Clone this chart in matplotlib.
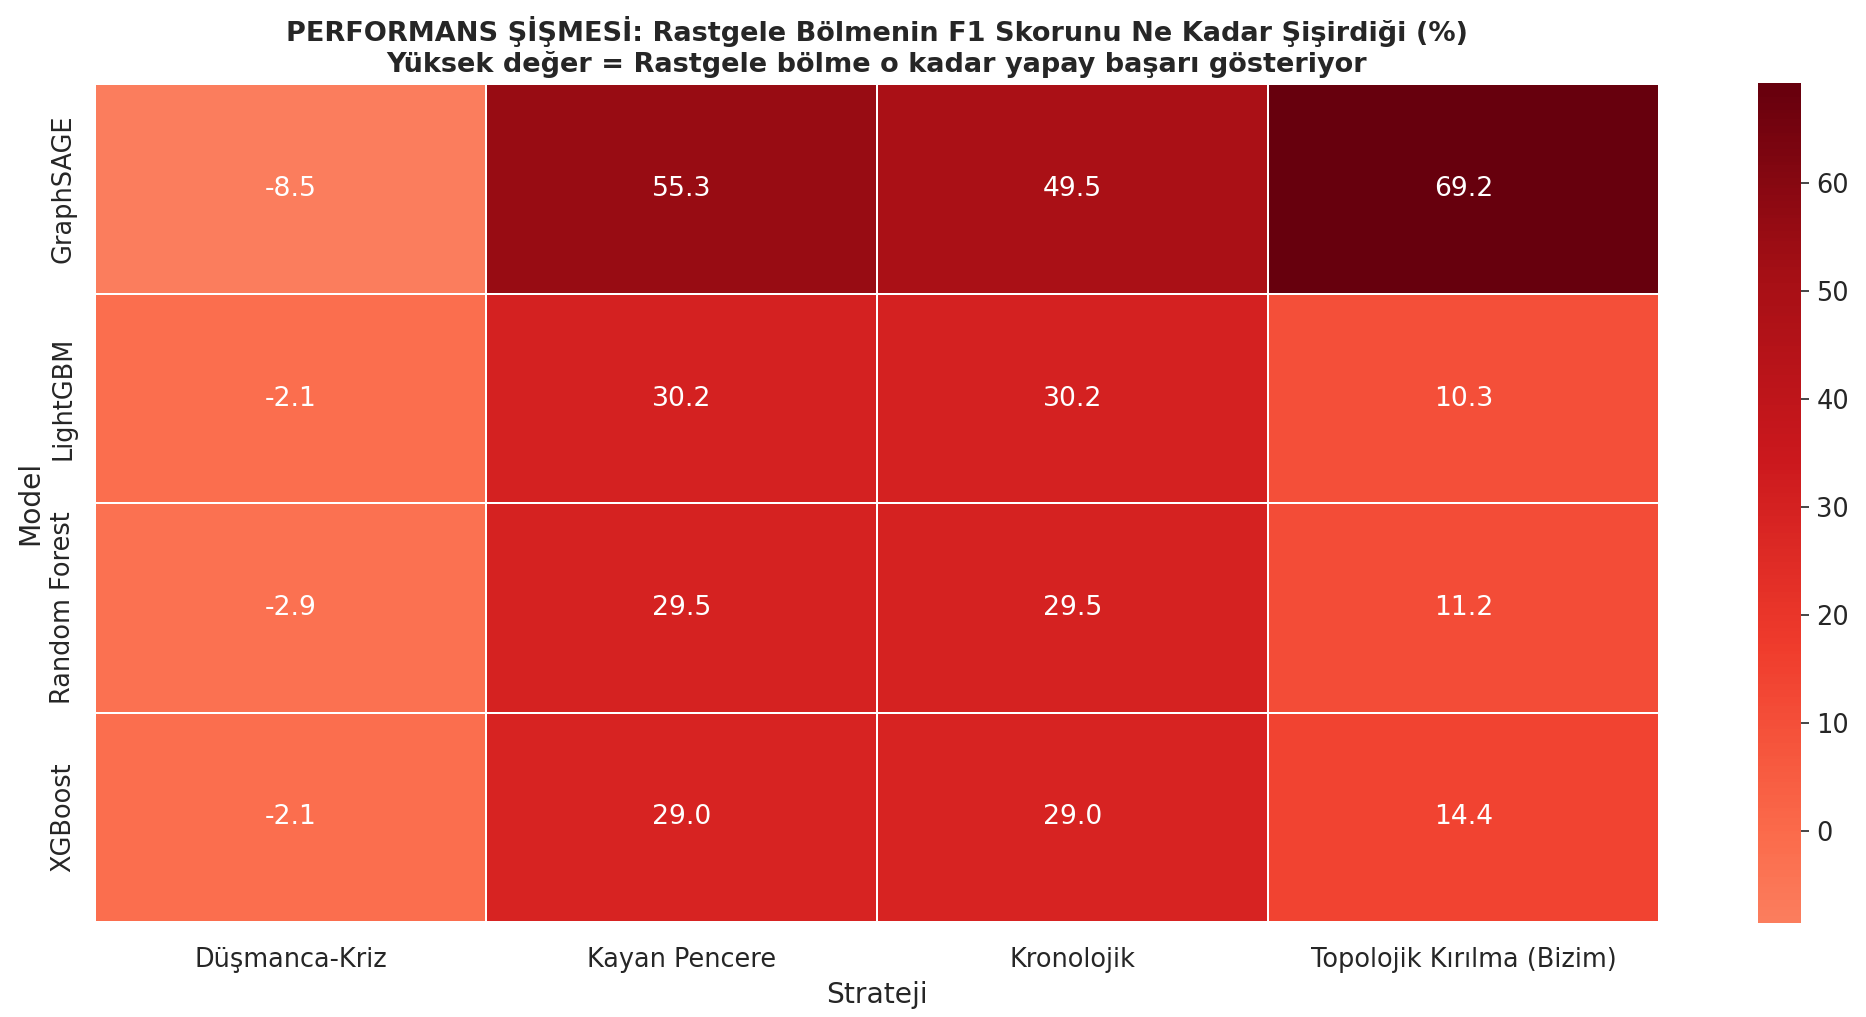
import matplotlib
matplotlib.use('Agg')
import matplotlib.pyplot as plt
import seaborn as sns
import pandas as pd

models = ['GraphSAGE', 'LightGBM', 'Random Forest', 'XGBoost']
strategies = ['Düşmanca-Kriz', 'Kayan Pencere', 'Kronolojik', 'Topolojik Kırılma (Bizim)']
graphsage = [-8.5, 55.3, 49.5, 69.2]
lightgbm = [-2.1, 30.2, 30.2, 10.3]
random_forest = [-2.9, 29.5, 29.5, 11.2]
xgboost = [-2.1, 29.0, 29.0, 14.4]

df = pd.DataFrame([graphsage, lightgbm, random_forest, xgboost],
                  index=models, columns=strategies)

sns.set_theme(style='white')
plt.rcParams['font.family'] = ['DejaVu Sans']

fig = plt.figure(figsize=(1866 / 150, 1017 / 150), dpi=150)
ax = fig.add_axes([0.0509, 0.0934, 0.8382, 0.8236])
cax = fig.add_axes([0.942, 0.0925, 0.023, 0.8255])

sns.heatmap(df, annot=True, fmt='.1f', cmap='Reds', center=0,
            linewidths=0.9, linecolor='white', ax=ax, cbar_ax=cax,
            annot_kws={'size': 12.8})

ax.set_title('PERFORMANS ŞİŞMESİ: Rastgele Bölmenin F1 Skorunu Ne Kadar Şişirdiği (%)\n'
             'Yüksek değer = Rastgele bölme o kadar yapay başarı gösteriyor',
             fontsize=13, fontweight='bold', pad=6)
ax.set_xlabel('Strateji', fontsize=13.5)
ax.set_ylabel('Model', fontsize=13.5, labelpad=3)
ax.tick_params(axis='both', labelsize=12.3, length=0, pad=12)
ax.tick_params(axis='y', pad=9)
cax.tick_params(labelsize=12.3, right=True, length=4, width=0.8, color='#262626')

fig.savefig('out.png', dpi=150)
